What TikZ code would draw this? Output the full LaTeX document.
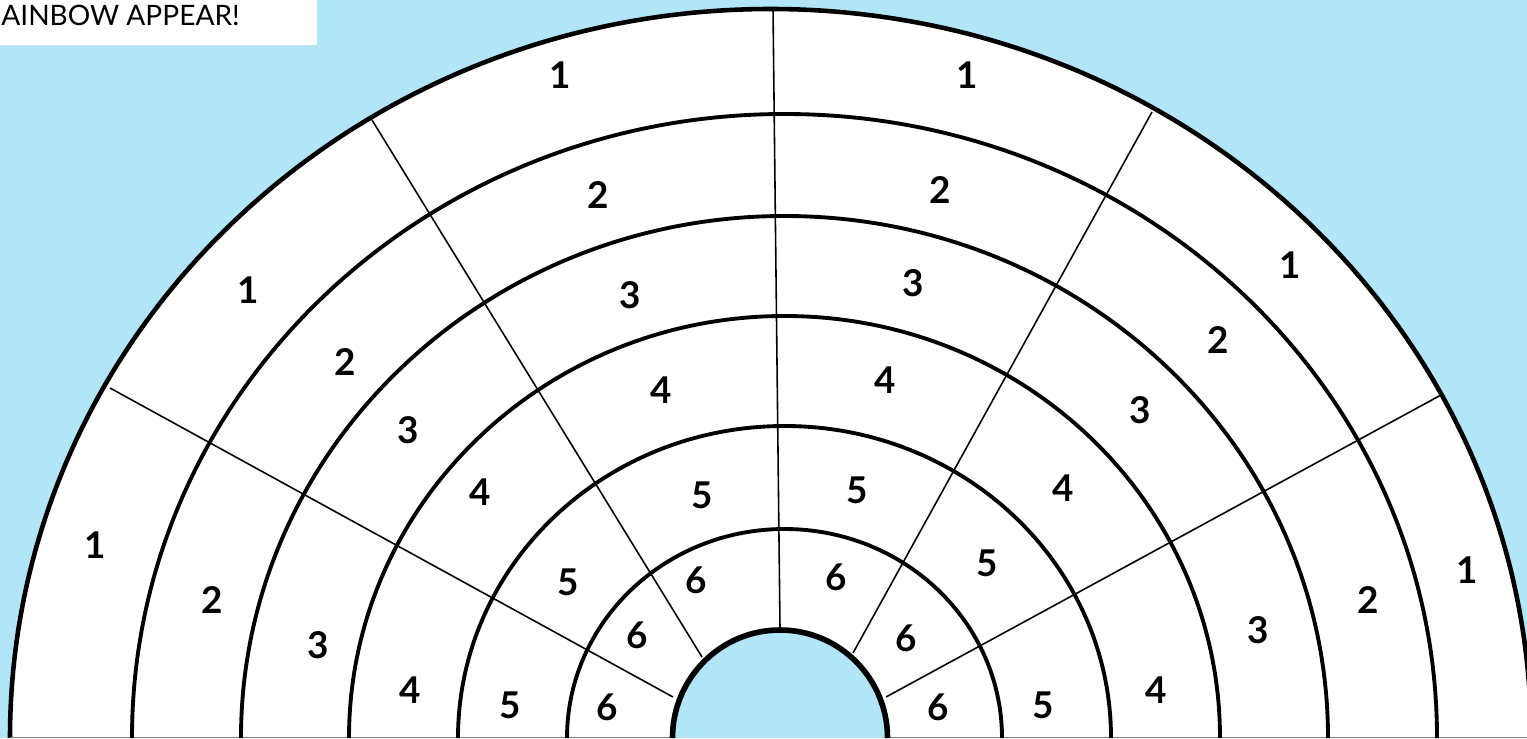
\documentclass[tikz,border=0pt]{standalone}
\usepackage{fontspec}
\setmainfont{Lato}
\definecolor{sky}{HTML}{B2E5F8}

\begin{document}
\begin{tikzpicture}[x=0.02cm,y=0.02cm,
  ring/.style={line width=2.2pt},
  spoke/.style={line width=0.9pt},
  num/.style={font=\fontsize{21}{21}\selectfont\bfseries}]
\useasboundingbox (0,0) rectangle (1527,738);
\clip (0,0) rectangle (1527,738);
\fill[sky] (0,0) rectangle (1527,738);
% white rainbow body
\fill[white] (10,0) arc[start angle=180,end angle=0,x radius=760.5,y radius=729] -- cycle;
\draw[line width=2.6pt] (10,0) arc[start angle=180,end angle=0,x radius=760.5,y radius=729];
\draw[gray,line width=0.5pt] (10,0.5) -- (1527,0.5);
% inner rings
\foreach \c/\a/\b in {784.5/652.5/624,784.5/543.5/522,784.5/435.5/422,784.5/326.5/312,784.5/217.5/209}
  \draw[ring] (\c-\a,0) arc[start angle=180,end angle=0,x radius=\a,y radius=\b];
% spokes from the hole to the outer edge
\coordinate (h1) at (673,41);   \coordinate (o1) at (110,350);
\coordinate (h2) at (702,81);   \coordinate (o2) at (372,618);
\coordinate (h3) at (780,110);  \coordinate (o3) at (773,729);
\coordinate (h4) at (853,85);   \coordinate (o4) at (1152,626);
\coordinate (h5) at (886,41);   \coordinate (o5) at (1441,343);
\foreach \i in {1,...,5}
  \draw[spoke] (h\i) -- (o\i);
% hole
\fill[sky] (672.5,0) arc[start angle=180,end angle=0,x radius=107.5,y radius=108] -- cycle;
\draw[line width=3.2pt] (672.5,0) arc[start angle=180,end angle=0,x radius=107.5,y radius=108];
% numbers
\foreach \x/\y/\n [count=\i] in {
  560/75/1,967/75/1,248/290/1,1290/265/1,95/545/1,1467/570/1,
  598/195/2,940/190/2,345/362/2,1218/340/2,212/600/2,1368/600/2,
  630/295/3,913/283/3,408/430/3,1140/410/3,318/645/3,1258/630/3,
  661/390/4,885/380/4,480/492/4,1063/488/4,410/690/4,1156/690/4,
  702/495/5,857/490/5,568/582/5,987/563/5,510/705/5,1043/705/5,
  696/580/6,836/577/6,637/635/6,906/638/6,607/707/6,938/707/6}
  \node[num] (d\i) at (\x,738-\y) {\n};
% title strip
\fill[white] (0,693) rectangle (317,738);
\node[anchor=base west,inner sep=0pt,font=\fontsize{16}{16}\selectfont] (title) at (1,712) {AINBOW APPEAR!};
\end{tikzpicture}
\end{document}
